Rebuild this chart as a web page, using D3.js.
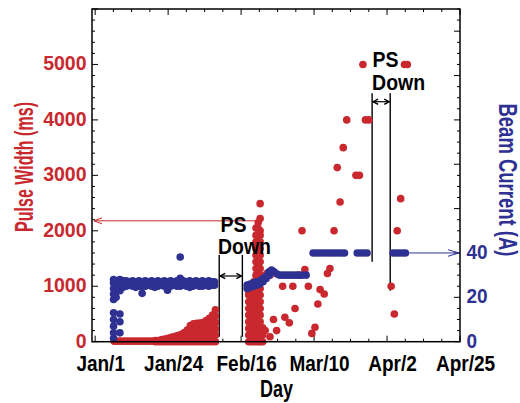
<!DOCTYPE html>
<html><head><meta charset="utf-8">
<script src="https://cdn.jsdelivr.net/npm/d3@7/dist/d3.min.js"></script>
<style>body{margin:0;background:#fff}svg{display:block}</style>
</head><body><svg id="c" width="520" height="403"></svg>
<script>
// ---------- DATA ----------
const xTickDays = [1, 24, 47, 70, 93, 116];
const xTickLabels = ["Jan/1", "Jan/24", "Feb/16", "Mar/10", "Apr/2", "Apr/25"];
const leftTicks = [0, 1000, 2000, 3000, 4000, 5000];
const rightTicks = [0, 20, 40];

// Pulse width (ms): each row = [day, value, value, ...]
const pulseRows = [
  [7,10],[8,10],[9,10],[10,10],[11,10],[12,10],[13,10],[14,10],[15,10],[16,10],[17,10],[18,10],[19,10],
  [20,0,20],[21,0,20],[22,0,40],[23,0,50],[24,0,60],[25,0,80],[26,0,95],[27,0,110],[28,0,130],
  [29,0,80,160],[30,0,100,210],[31,0,100,200,290],[32,0,110,220,325],[33,0,110,220,330],
  [34,0,110,220,335],[35,0,115,230,345],[36,0,120,240,380],[37,0,110,220,330,420],
  [38,0,120,240,360,480],[38.9,0,115,230,345,460,575],
  [49.4,0,120,240,360,480,600,720,840,900],
  [50.2,0,120,240,360,480,600,720,840,950],
  [51.0,0,120,240,360,480,600,720,840,960,1080],
  [51.7,0,120,240,360,480,600,720,840,960,1080,1200,1320,1440,1560,1680,1800,1920,2050],
  [52.4,0,120,240,360,480,600,720,840,960,1080,1200,1320,1440,1560,1680,1800,1920,2040,2150],
  [53.0,0,120,240,360,480,600,720,840,960,1080,1200,1320,1440,1560,1680,1800,1920,2000,2220,2490],
  [53.8,0,120,250],
  [54.6,200],[55.1,1230],[56.1,90,1200],[57.2,400],[58.2,200],[60.1,1000],[60.8,440],
  [62.2,340],[63.3,1000],[64.0,600],[65.0,1200],[66.2,2000],[67.1,1300],[68.2,1000],
  [69.3,150],[70.3,260],[71.2,680],[71.9,940],[73.2,860],[74.2,1230],[75.0,1320],
  [76.3,2000],[77.3,3140],[78.2,2520],[79.2,3500],[80.3,4000],[83.2,3000],[84.3,3000],
  [85.4,5000],[86.2,4000],[87.3,4000],[94.3,1000],[95.3,500],[96.2,2000],[97.3,2580],
  [98.5,5000],[99.4,5000]
];

// Beam current (A): each row = [day, value, value, ...]
const beamRows = [
  [6.8,1.5,4,7,10,13,19,21.5,24,26.5,28],[7.6,20,22.5,25,27.5],[8.8,4,9,12.5,23,25.5,28],
  [9.8,24.5,27.5],[10.8,25,27.5],[11.8,25.5,27],[12.8,25,27.5],[13.8,24.5,27],[14.8,25,27.5],
  [15.8,21.8,25,27],[16.8,25,27.5],[17.8,25.5,27],[18.8,25,27.5],[19.8,24.5,27],[20.8,25,27.5],
  [21.8,25.5,27],[22.8,25,27.5],[23.8,23.2,25,27],[24.8,25,27.5],[25.8,25.5,27],[26.8,25,27.5],
  [27.8,25,28.6,38.2],[28.8,25.5,27.5],[29.8,25,27],[30.8,24.5,27.5],[31.8,25,27],[32.8,25.5,27.5],
  [33.8,25,27],[34.8,25,27.5],[35.8,25.5,27],[36.8,25,27.5],[37.8,25.5,27],[38.6,25.5,27],
  [48.9,24,25.5],[49.9,24.5,26],[50.9,25,26.5],[51.9,25.5,27],[52.9,26,27.5],[53.9,27,28.5],
  [54.9,28.5,29.5],[55.8,30,31.5],[56.6,32.3],[57.4,31.5],[58.3,30.5],[59.2,30],[60.2,30],
  [61.2,30],[62.2,30],[63.2,30],[64.2,30],[65.2,30],[66.2,30],[67.5,30],
  [69.7,40],[70.7,40],[71.7,40],[72.7,40],[73.7,40],[74.7,40],[75.7,40],[76.7,40],[77.7,40],
  [78.7,40],[79.6,40],[83.6,40],[84.6,40],[85.6,40],[86.7,40],
  [94.9,40],[95.9,40],[96.9,40],[97.9,40],[98.8,40]
];

// "PS Down" periods (day from, day to)
const psDownFrom = [40.1, 88.3];
const psDownTo = [47.4, 94.0];
const psDownLabel = ["PS", "Down"];

// ---------- DRAW ----------
const RED = "#c8282e", BLUE = "#2e3192";
const FONT = "'Liberation Sans', Arial, Helvetica, sans-serif";
const svg = d3.select("#c");
const L = 92, R = 460, T = 9, B = 341.7;
const x = d3.scaleLinear().domain([0, 116]).range([L, R]);
const yL = d3.scaleLinear().domain([0, 6000]).range([B, T]);
const yR = d3.scaleLinear().domain([0, 150]).range([B, T]);

function flat(rows) {
  const out = [];
  rows.forEach(r => r.slice(1).forEach(v => out.push([r[0], v])));
  return out;
}
function txt(px, py, s, o) {
  const t = svg.append("text")
    .attr("transform", `translate(${px},${py}) ${o.rot ? "rotate(" + o.rot + ")" : ""} scale(1,${o.sy || 1})`)
    .attr("font-family", FONT).attr("font-weight", "bold")
    .attr("font-size", o.size).attr("fill", o.fill || "#000")
    .attr("text-anchor", o.anchor || "start").text(s);
  if (o.len) t.attr("textLength", o.len).attr("lengthAdjust", "spacingAndGlyphs");
  return t;
}

// ticks
const tk = svg.append("g").attr("stroke", "#000").attr("stroke-width", 1);
const xMinor = d3.range(1, 116.01, 5.75);
xMinor.forEach(d => {
  const major = xTickDays.some(t => Math.abs(t - d) < 0.01);
  const len = major ? 6 : 3;
  tk.append("line").attr("x1", x(d)).attr("x2", x(d)).attr("y1", B).attr("y2", B - len);
  tk.append("line").attr("x1", x(d)).attr("x2", x(d)).attr("y1", T).attr("y2", T + len);
});
d3.range(0, 6001, 200).forEach(v => {
  const len = v % 1000 === 0 ? 6 : 3;
  tk.append("line").attr("x1", L).attr("x2", L + len).attr("y1", yL(v)).attr("y2", yL(v));
});
d3.range(0, 151, 5).forEach(v => {
  const len = v % 20 === 0 ? 6 : 3;
  tk.append("line").attr("x1", R).attr("x2", R - len).attr("y1", yR(v)).attr("y2", yR(v));
});

// PS down lines
const ann = svg.append("g").attr("stroke", "#000").attr("stroke-width", 1.4).attr("fill", "none");
const psTop = [1565, 4480], psBotL = [90, 1443], psBotR = [90, 920], psArrow = [1185, 4328];
psDownFrom.forEach((d0, i) => {
  const d1 = psDownTo[i];
  ann.append("line").attr("x1", x(d0)).attr("x2", x(d0)).attr("y1", yL(psTop[i])).attr("y2", yL(psBotL[i]));
  ann.append("line").attr("x1", x(d1)).attr("x2", x(d1)).attr("y1", yL(psTop[i])).attr("y2", yL(psBotR[i]));
  const ya = yL(psArrow[i]), a = x(d0) + 1, b = x(d1) - 1;
  ann.append("line").attr("x1", a).attr("x2", b).attr("y1", ya).attr("y2", ya).attr("stroke-width", 1.2);
  ann.append("path").attr("d", `M${a + 5},${ya - 2.6}L${a},${ya}L${a + 5},${ya + 2.6}`).attr("stroke-width", 1.4);
  ann.append("path").attr("d", `M${b - 5},${ya - 2.6}L${b},${ya}L${b - 5},${ya + 2.6}`).attr("stroke-width", 1.4);
});

// red arrow to left axis
const ry = yL(2180);
svg.append("line").attr("x1", x(51.4)).attr("x2", L + 2).attr("y1", ry).attr("y2", ry).attr("stroke", RED).attr("stroke-width", 1);
svg.append("path").attr("d", `M${L + 10},${ry - 3}L${L + 2},${ry}L${L + 10},${ry + 3}`).attr("stroke", RED).attr("fill", "none").attr("stroke-width", 1);

// dots
const r = 3.8;
svg.append("g").selectAll("circle").data(flat(pulseRows)).join("circle")
  .attr("cx", d => x(d[0])).attr("cy", d => yL(d[1])).attr("r", r).attr("fill", RED);
svg.append("g").selectAll("circle").data(flat(beamRows)).join("circle")
  .attr("cx", d => x(d[0])).attr("cy", d => yR(d[1])).attr("r", r).attr("fill", BLUE);

// blue arrow to right axis
const by = yR(40);
svg.append("line").attr("x1", x(100)).attr("x2", R - 1).attr("y1", by).attr("y2", by).attr("stroke", BLUE).attr("stroke-width", 1);
svg.append("path").attr("d", `M${R - 12},${by - 3.3}L${R - 1},${by}L${R - 12},${by + 3.3}`).attr("stroke", BLUE).attr("fill", "none").attr("stroke-width", 1);

// frame
svg.append("rect").attr("x", L).attr("y", T).attr("width", R - L).attr("height", B - T)
  .attr("fill", "none").attr("stroke", "#000").attr("stroke-width", 1.5);

// tick labels
leftTicks.forEach(v => txt(86.5, yL(v) + 6, String(v), {size: 19.5, sy: 1.08, fill: RED, anchor: "end"}));
rightTicks.forEach(v => txt(466.5, yR(v) + 6, String(v), {size: 19, sy: 1.1, fill: BLUE}));
xTickDays.forEach((d, i) => txt(x(d) + 5.5, 370.7, xTickLabels[i], {size: 19, sy: 1.15, anchor: "middle"}));

// axis titles
txt(276.5, 397, "Day", {size: 19.5, sy: 1.2, anchor: "middle", len: 33});
txt(32.5, 167, "Pulse Width (ms)", {size: 25, rot: -90, anchor: "middle", fill: RED, len: 130});
txt(498.5, 180, "Beam Current (A)", {size: 25, rot: 90, anchor: "middle", fill: BLUE, len: 153});

// PS Down labels (two lines each)
const psTextY = [[231.5, 253.8], [67.3, 89.5]];
const psTextDx = [[1.2, -1.3], [0.3, 0]];
psDownFrom.forEach((d0, i) => {
  psDownLabel.forEach((s, j) => txt(x(d0) + psTextDx[i][j], psTextY[i][j], s, {size: 19.5, sy: 1.1}));
});
</script></body></html>
